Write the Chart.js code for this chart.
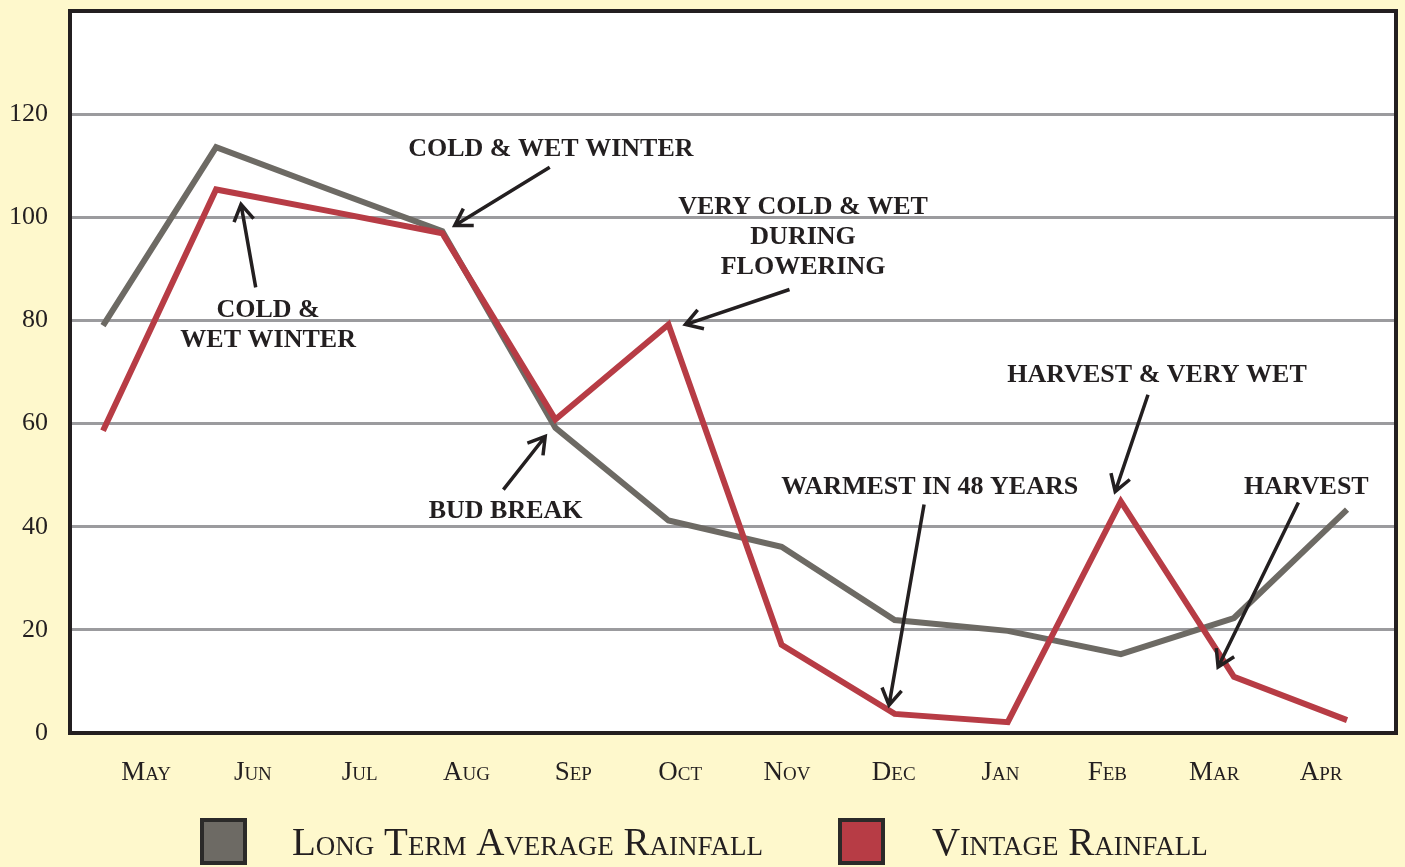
<!DOCTYPE html>
<html>
<head>
<meta charset="utf-8">
<title>Rainfall by month</title>
<script src="https://cdn.jsdelivr.net/npm/chart.js@4.4.1/dist/chart.umd.min.js"></script>
<style>
  html, body { margin: 0; padding: 0; background: #fef8cc; }
  #wrap { width: 1405px; height: 867px; }
</style>
</head>
<body>
<div id="wrap"><canvas id="rainChart" width="1405" height="867"></canvas></div>
<script>
// values
const months = ['May', 'Jun', 'Jul', 'Aug', 'Sep', 'Oct', 'Nov', 'Dec', 'Jan', 'Feb', 'Mar', 'Apr'];
const longTermAvg = [79, 113.6, 105.4, 97.3, 59.2, 41.2, 36.1, 21.9, 19.8, 15.3, 22.3, 43.3];
const vintage = [58.6, 105.4, 101.2, 96.9, 60.8, 79.2, 17.1, 3.7, 2.1, 44.9, 10.9, 2.5];
const yTicks = [0, 20, 40, 60, 80, 100, 120];
const seriesNames = ['Long Term Average Rainfall', 'Vintage Rainfall'];

// callouts, placed in data units (month index, rainfall)
const notes = [
    { lines: ['COLD & WET WINTER'], at: [3.96, 113.8], from: [3.95, 109.7], to: [3.11, 98.4] },
    { lines: ['COLD &', 'WET WINTER'], at: [1.46, 82.5], from: [1.35, 86.4], to: [1.22, 102.5] },
    { lines: ['VERY COLD & WET', 'DURING', 'FLOWERING'], at: [6.19, 102.5], from: [6.07, 86.0], to: [5.15, 79.2] },
    { lines: ['BUD BREAK'], at: [3.56, 43.5], from: [3.54, 47.2], to: [3.91, 57.5] },
    { lines: ['WARMEST IN 48 YEARS'], at: [7.31, 48.3], from: [7.26, 44.3], to: [6.95, 5.4] },
    { lines: ['HARVEST & VERY WET'], at: [9.32, 69.9], from: [9.24, 65.6], to: [8.95, 46.8] },
    { lines: ['HARVEST'], at: [10.64, 48.3], from: [10.57, 44.7], to: [9.86, 12.8] }
];

const INK = '#231f20';
const SERIF = "'Liberation Serif', 'DejaVu Serif', serif";
const GRAY = '#6d6a64';
const RED = '#b73c45';

/**
 * Cream page, white plot area, black frame
 */
const backdrop = {
    id: 'backdrop',
    beforeDraw(chart) {
        const { ctx, chartArea: a } = chart;
        ctx.save();
        ctx.fillStyle = '#fef8cc';
        ctx.fillRect(0, 0, chart.width, chart.height);
        ctx.fillStyle = '#ffffff';
        ctx.fillRect(a.left, a.top, a.right - a.left, a.bottom - a.top);
        ctx.restore();
    },
    afterDatasetsDraw(chart) {
        const { ctx, chartArea: a } = chart;
        ctx.save();
        ctx.strokeStyle = INK;
        ctx.lineWidth = 4;
        ctx.strokeRect(a.left, a.top, a.right - a.left, a.bottom - a.top);
        ctx.restore();
    }
};

function drawArrow(ctx, x1, y1, x2, y2) {
    const ang = Math.atan2(y2 - y1, x2 - x1);
    const head = 19;
    ctx.beginPath();
    ctx.moveTo(x1, y1);
    ctx.lineTo(x2, y2);
    ctx.moveTo(x2 - head * Math.cos(ang - 0.55), y2 - head * Math.sin(ang - 0.55));
    ctx.lineTo(x2, y2);
    ctx.lineTo(x2 - head * Math.cos(ang + 0.55), y2 - head * Math.sin(ang + 0.55));
    ctx.stroke();
}

/**
 * Text callouts with arrows
 */
const callouts = {
    id: 'callouts',
    afterDatasetsDraw(chart) {
        const ctx = chart.ctx;
        const xs = chart.scales.x;
        const ys = chart.scales.y;
        ctx.save();
        ctx.fillStyle = INK;
        ctx.strokeStyle = INK;
        ctx.lineWidth = 3.5;
        ctx.lineCap = 'butt';
        ctx.lineJoin = 'miter';
        ctx.font = 'bold 26px ' + SERIF;
        ctx.textAlign = 'center';
        ctx.textBaseline = 'middle';
        notes.forEach(n => {
            const tx = xs.getPixelForValue(n.at[0]);
            const ty = ys.getPixelForValue(n.at[1]) + 3;
            n.lines.forEach((line, i) => ctx.fillText(line, tx, ty + i * 30));
            drawArrow(ctx,
                xs.getPixelForValue(n.from[0]), ys.getPixelForValue(n.from[1]),
                xs.getPixelForValue(n.to[0]), ys.getPixelForValue(n.to[1]));
        });
        ctx.restore();
    }
};

/**
 * Legend along the bottom: framed swatch + small caps label
 */
const boxLegend = {
    id: 'boxLegend',
    afterDraw(chart) {
        const ctx = chart.ctx;
        const slots = [{ box: 200, text: 292 }, { box: 838, text: 932 }];
        ctx.save();
        chart.data.datasets.forEach((ds, i) => {
            const s = slots[i];
            ctx.fillStyle = ds.borderColor;
            ctx.fillRect(s.box + 2, 820, 43, 43);
            ctx.strokeStyle = '#2b2a29';
            ctx.lineWidth = 4;
            ctx.strokeRect(s.box + 2, 820, 43, 43);
            ctx.fillStyle = INK;
            ctx.font = 'small-caps 39px ' + SERIF;
            ctx.textAlign = 'left';
            ctx.textBaseline = 'alphabetic';
            ctx.fillText(ds.label, s.text, 855);
        });
        ctx.restore();
    }
};

// no extra padding from tick labels, chart area is set by layout padding + fixed axis sizes
function noPad(s) {
    s.paddingTop = 0;
    s.paddingBottom = 0;
    s.paddingLeft = 0;
    s.paddingRight = 0;
}

const ctx = document.getElementById('rainChart');
new Chart(ctx.getContext('2d'), {
    type: 'line',
    data: {
        datasets: [
            {
                label: seriesNames[0],
                data: months.map((m, i) => ({ x: i, y: longTermAvg[i] })),
                borderColor: GRAY,
                backgroundColor: GRAY,
                borderWidth: 6,
                borderJoinStyle: 'miter',
                pointRadius: 0,
                tension: 0,
                order: 1
            },
            {
                label: seriesNames[1],
                data: months.map((m, i) => ({ x: i, y: vintage[i] })),
                borderColor: RED,
                backgroundColor: RED,
                borderWidth: 6,
                borderJoinStyle: 'miter',
                pointRadius: 0,
                tension: 0,
                order: 0
            }
        ]
    },
    options: {
        responsive: false,
        animation: false,
        layout: { padding: { top: 11, right: 9, left: 0, bottom: 0 } },
        plugins: {
            legend: { display: false },
            tooltip: { enabled: false }
        },
        scales: {
            x: {
                type: 'linear',
                display: false,
                min: -0.292,
                max: 11.433
            },
            xm: {
                type: 'linear',
                position: 'bottom',
                min: -0.712,
                max: 11.702,
                afterBuildTicks: s => { s.ticks = months.map((m, i) => ({ value: i })); },
                afterFit: s => { s.height = 134; noPad(s); },
                grid: { display: false, drawTicks: false },
                border: { display: false },
                ticks: {
                    autoSkip: false,
                    maxRotation: 0,
                    padding: 24,
                    color: INK,
                    font: { family: SERIF, size: 27, weight: 'small-caps' },
                    callback: v => months[v]
                }
            },
            y: {
                min: 0,
                max: 140,
                afterBuildTicks: s => { s.ticks = yTicks.map(v => ({ value: v })); },
                afterFit: s => { s.width = 70; noPad(s); },
                border: { display: false },
                grid: {
                    drawTicks: false,
                    lineWidth: 3,
                    color: c => (c.tick && c.tick.value === 0) ? 'rgba(0,0,0,0)' : '#9b9b9e'
                },
                ticks: {
                    padding: 22,
                    color: INK,
                    font: { family: SERIF, size: 26 }
                }
            }
        }
    },
    plugins: [backdrop, callouts, boxLegend]
});
</script>
</body>
</html>
